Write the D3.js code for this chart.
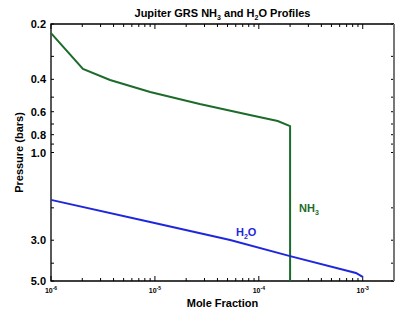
<!DOCTYPE html>
<html>
<head>
<meta charset="utf-8">
<script src="https://cdn.jsdelivr.net/npm/d3@7"></script>
<style>
  body { margin: 0; background: #fff; }
  text { font-family: "Liberation Sans", Arial, sans-serif; font-weight: bold; }
</style>
</head>
<body>
<div id="chart"></div>
<script>
// NH3 profile: mole fraction vs pressure (bars)
var nh3X = [1e-6, 2.03e-6, 3.7e-6, 9e-6, 2.7e-5, 8.2e-5, 1.52e-4, 2e-4, 2e-4]
var nh3P = [0.224, 0.351, 0.403, 0.469, 0.545, 0.625, 0.674, 0.718, 5.0]

// H2O profile
var h2oX = [1e-6, 9e-6, 5.3e-5, 2e-4, 8.6e-4, 1e-3]
var h2oP = [1.81, 2.39, 2.99, 3.66, 4.52, 4.75]

var xDecades = [-6, -5, -4, -3]
var yTicks = [0.2, 0.3, 0.4, 0.5, 0.6, 0.7, 0.8, 0.9, 1.0, 2.0, 3.0, 4.0, 5.0]
var yLabels = [0.2, 0.4, 0.6, 0.8, 1.0, 3.0, 5.0]

var W = 408, H = 311
var m = {top: 24, left: 51, right: 14, bottom: 30}
var green = '#1d6b2b', blue = '#1f27dd'

var svg = d3.select('#chart').append('svg').attr('width', W).attr('height', H)

var x = d3.scaleLog().domain([1e-6, 2e-3]).range([m.left, W - m.right])
var y = d3.scaleLog().domain([0.2, 5.0]).range([m.top, H - m.bottom])

var x0 = x.range()[0], x1 = x.range()[1], y0 = y.range()[0], y1 = y.range()[1]

// minor + major x ticks
var xTicks = []
xDecades.forEach(e => {
  d3.range(1, 10).forEach(k => {
    var v = k * Math.pow(10, e)
    if (v <= 2e-3) xTicks.push({v, major: k == 1})
  })
})
xTicks.push({v: 2e-3, major: false})

var g = svg.append('g')

xTicks.forEach(t => {
  var len = t.major ? 5 : 3
  g.append('line').attr('x1', x(t.v)).attr('x2', x(t.v)).attr('y1', y1).attr('y2', y1 - len)
    .attr('stroke', '#000').attr('stroke-width', 1)
  g.append('line').attr('x1', x(t.v)).attr('x2', x(t.v)).attr('y1', y0).attr('y2', y0 + len)
    .attr('stroke', '#000').attr('stroke-width', 1)
})

yTicks.forEach(v => {
  g.append('line').attr('x1', x0).attr('x2', x0 + 3).attr('y1', y(v)).attr('y2', y(v))
    .attr('stroke', '#000')
  g.append('line').attr('x1', x1).attr('x2', x1 - 3).attr('y1', y(v)).attr('y2', y(v))
    .attr('stroke', '#000')
})

// frame
g.append('path').attr('d', `M${x1},${y0}H${x0}V${y1}H${x1}`)
  .attr('fill', 'none').attr('stroke', '#000').attr('stroke-width', 1.3)
g.append('line').attr('x1', x1).attr('x2', x1).attr('y1', y0).attr('y2', y1)
  .attr('stroke', '#777').attr('stroke-width', 2)

// y labels
yLabels.forEach(v => {
  g.append('text').attr('x', x0 - 5).attr('y', y(v) + 4).attr('text-anchor', 'end')
    .attr('font-size', 11).text(d3.format('.1f')(v))
})

// x labels: 10^e
xDecades.forEach(e => {
  var t = g.append('text').attr('x', x(Math.pow(10, e))).attr('y', y1 + 12)
    .attr('text-anchor', 'middle').attr('font-size', 7)
  t.append('tspan').text('10')
  t.append('tspan').attr('dy', -3).attr('font-size', 5).text(e)
})

g.append('text').attr('x', (x0 + x1) / 2).attr('y', H - 4).attr('text-anchor', 'middle')
  .attr('font-size', 11).text('Mole Fraction')

g.append('text').attr('transform', `translate(23,${(y0 + y1) / 2}) rotate(-90)`)
  .attr('text-anchor', 'middle').attr('font-size', 11).text('Pressure (bars)')

// title
var title = g.append('text').attr('x', (x0 + x1) / 2).attr('y', 17).attr('text-anchor', 'middle')
  .attr('font-size', 11)
title.append('tspan').text('Jupiter GRS NH')
title.append('tspan').attr('dy', 3).attr('font-size', 7).text('3')
title.append('tspan').attr('dy', -3).text(' and H')
title.append('tspan').attr('dy', 3).attr('font-size', 7).text('2')
title.append('tspan').attr('dy', -3).text('O Profiles')

var line = d3.line().x(d => x(d[0])).y(d => y(d[1]))

g.append('path').datum(d3.zip(nh3X, nh3P)).attr('d', line)
  .attr('fill', 'none').attr('stroke', green).attr('stroke-width', 2)
g.append('path').datum(d3.zip(h2oX, h2oP)).attr('d', line)
  .attr('fill', 'none').attr('stroke', blue).attr('stroke-width', 2)

// series labels
var nl = g.append('text').attr('x', 299).attr('y', 212).attr('font-size', 11).attr('fill', green)
nl.append('tspan').text('NH')
nl.append('tspan').attr('dy', 3).attr('font-size', 7).text('3')

var hl = g.append('text').attr('x', 236).attr('y', 236).attr('font-size', 11).attr('fill', blue)
hl.append('tspan').text('H')
hl.append('tspan').attr('dy', 3).attr('font-size', 7).text('2')
hl.append('tspan').attr('dy', -3).text('O')
</script>
</body>
</html>
